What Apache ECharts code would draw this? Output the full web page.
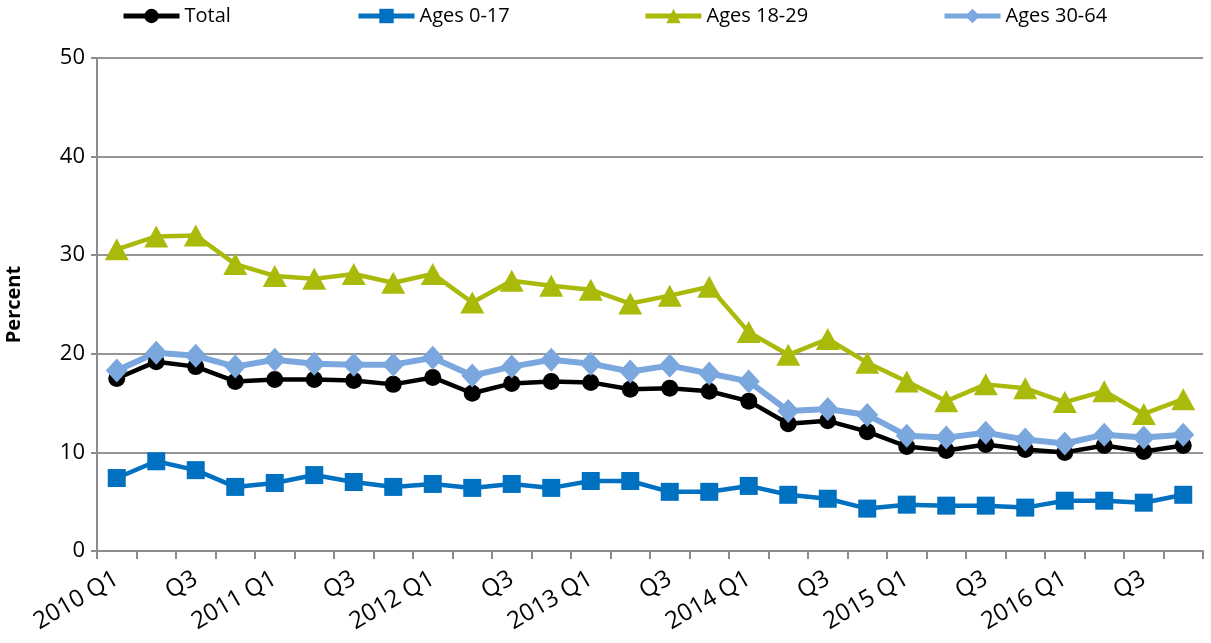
<!DOCTYPE html>
<html>
<head>
<meta charset="utf-8">
<script src="https://cdn.jsdelivr.net/npm/echarts@6/dist/echarts.min.js"></script>
<style>
  html, body { margin: 0; padding: 0; background: #fff; }
  #chart { width: 1211px; height: 643px; }
</style>
</head>
<body>
<div id="chart"></div>
<script>
// quarters 2010 Q1 .. 2016 Q4
var quarters = [
  "2010 Q1", "Q2", "Q3", "Q4",
  "2011 Q1", "Q2", "Q3", "Q4",
  "2012 Q1", "Q2", "Q3", "Q4",
  "2013 Q1", "Q2", "Q3", "Q4",
  "2014 Q1", "Q2", "Q3", "Q4",
  "2015 Q1", "Q2", "Q3", "Q4",
  "2016 Q1", "Q2", "Q3", "Q4"
];
var total = [17.5, 19.2, 18.7, 17.2, 17.4, 17.4, 17.3, 16.9, 17.6, 16.0,
  17.0, 17.2, 17.1, 16.4, 16.5, 16.2, 15.2, 12.9, 13.2, 12.1,
  10.6, 10.2, 10.8, 10.3, 10.0, 10.7, 10.1, 10.7];
var ages0to17 = [7.4, 9.1, 8.2, 6.5, 6.9, 7.7, 7.0, 6.5, 6.8, 6.4,
  6.8, 6.4, 7.1, 7.1, 6.0, 6.0, 6.6, 5.7, 5.3, 4.3,
  4.7, 4.6, 4.6, 4.4, 5.1, 5.1, 4.9, 5.7];
var ages18to29 = [30.6, 31.9, 32.0, 29.1, 27.9, 27.6, 28.1, 27.2, 28.1, 25.2,
  27.4, 26.9, 26.5, 25.1, 25.9, 26.8, 22.2, 19.9, 21.5, 19.1,
  17.2, 15.2, 16.9, 16.5, 15.1, 16.2, 13.9, 15.4];
var ages30to64 = [18.3, 20.1, 19.8, 18.7, 19.4, 19.0, 18.9, 18.9, 19.6, 17.8,
  18.7, 19.4, 19.0, 18.2, 18.8, 18.0, 17.2, 14.2, 14.4, 13.8,
  11.7, 11.5, 12.0, 11.3, 10.9, 11.8, 11.5, 11.8];

var font = "'Open Sans', 'Liberation Sans', sans-serif";
var legendText = { fontSize: 20, color: "#000", fontFamily: font };

// one legend per item so each can sit where the original has it
function legendAt(name, left) {
  return {
    data: [name],
    left: left,
    top: 1,
    itemWidth: 56,
    itemHeight: 18,
    itemGap: 0,
    textStyle: legendText,
    lineStyle: { width: 5 }
  };
}

var chart = echarts.init(document.getElementById("chart"));
var option = {
  animation: false,
  textStyle: { fontFamily: font },
  legend: [
    legendAt("Total", 116),
    legendAt("Ages 0-17", 351),
    legendAt("Ages 18-29", 638),
    legendAt("Ages 30-64", 937)
  ],
  grid: { left: 97, right: 8, top: 58, bottom: 92, outerBoundsMode: "none" },
  xAxis: {
    type: "category",
    data: quarters,
    boundaryGap: true,
    axisLine: { lineStyle: { color: "#8c8c8c", width: 2 } },
    axisTick: { show: true, interval: 0, length: 8, lineStyle: { color: "#8c8c8c", width: 2 } },
    axisLabel: {
      interval: 1,
      rotate: 30,
      fontSize: 24,
      color: "#000",
      margin: 26,
      fontFamily: font
    }
  },
  yAxis: {
    type: "value",
    min: 0,
    max: 50,
    interval: 10,
    name: "Percent",
    nameLocation: "middle",
    nameGap: 73,
    nameTextStyle: { fontSize: 20, fontWeight: "bold", color: "#000", fontFamily: font },
    axisLine: { show: true, lineStyle: { color: "#8c8c8c", width: 2 } },
    axisTick: { show: true, length: 6, lineStyle: { color: "#8c8c8c", width: 2 } },
    axisLabel: { fontSize: 22, color: "#000", margin: 12, fontFamily: font },
    splitLine: { lineStyle: { color: "#959595", width: 2 } }
  },
  series: [
    {
      name: "Total",
      type: "line",
      data: total,
      symbol: "circle",
      symbolSize: 17,
      lineStyle: { color: "#000", width: 4.5 },
      itemStyle: { color: "#000" }
    },
    {
      name: "Ages 0-17",
      type: "line",
      data: ages0to17,
      symbol: "rect",
      symbolSize: 18,
      lineStyle: { color: "#0070C0", width: 4.5 },
      itemStyle: { color: "#0070C0" }
    },
    {
      name: "Ages 18-29",
      type: "line",
      data: ages18to29,
      symbol: "triangle",
      symbolSize: [24, 22],
      lineStyle: { color: "#AABA0A", width: 4.5 },
      itemStyle: { color: "#AABA0A" }
    },
    {
      name: "Ages 30-64",
      type: "line",
      data: ages30to64,
      symbol: "diamond",
      symbolSize: [22, 24],
      lineStyle: { color: "#7BA7DF", width: 6 },
      itemStyle: { color: "#7BA7DF" }
    }
  ]
};
chart.setOption(option);
</script>
</body>
</html>
